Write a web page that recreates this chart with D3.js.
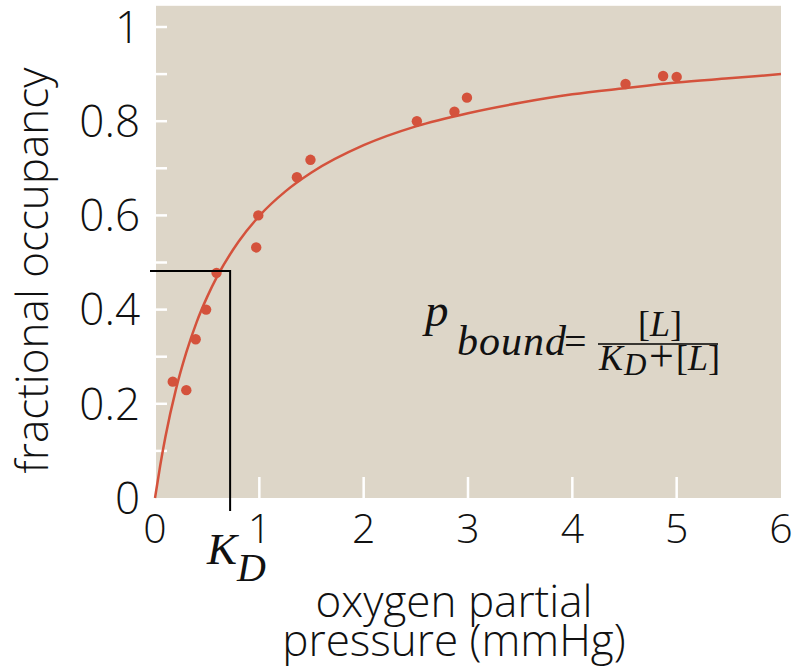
<!DOCTYPE html>
<style>
  body { margin: 0; background: #fff; }
  text { font-family: "Open Sans", sans-serif; font-weight: 350; fill: #111; }
  .math { font-family: "Liberation Serif", serif; font-style: italic; font-weight: 400; }
  .upright { font-family: "Liberation Serif", serif; font-style: normal; font-weight: 400; }
</style>
<body></body>
<script src="https://cdn.jsdelivr.net/npm/d3@7"></script>
<script>
  const width = 792
  const height = 671

  // measured points (oxygen partial pressure, fractional occupancy)
  const pressure = [0.17, 0.30, 0.39, 0.49, 0.59, 0.97, 0.99, 1.36, 1.49, 2.51, 2.87, 2.99, 4.51, 4.87, 5.0]
  const occupancy = [0.247, 0.229, 0.337, 0.40, 0.478, 0.532, 0.60, 0.681, 0.718, 0.80, 0.82, 0.85, 0.879, 0.896, 0.894]

  // binding curve
  const curveX = [0, 0.05, 0.1, 0.2, 0.3, 0.4, 0.5, 0.6, 0.8, 1, 1.25, 1.5, 2, 2.5, 3, 3.5, 4, 4.5, 5, 5.5, 6]
  const curveY = [0, 0.069, 0.13, 0.23, 0.309, 0.374, 0.427, 0.472, 0.544, 0.599, 0.651, 0.691, 0.749, 0.789, 0.817, 0.839, 0.857, 0.87, 0.882, 0.891, 0.90]

  const xTickLabels = ["0", "1", "2", "3", "4", "5", "6"]
  const yTickLabels = ["0", "0.2", "0.4", "0.6", "0.8", "1"]
  const yMinorTicks = [0.1, 0.2, 0.3, 0.4, 0.5, 0.6, 0.7, 0.8, 0.9, 1]
  const xMinorTicks = [1, 2, 3, 4, 5]

  // K_D guide lines
  const kdX = 0.72
  const kdY = 0.482

  const x = d3.scaleLinear().domain([0, 6]).range([155, 781])
  const y = d3.scaleLinear().domain([0, 1]).range([498, 27])

  const svg = d3.select("body")
    .append("svg")
    .attr("width", width)
    .attr("height", height)

  // plot background
  svg.append("rect")
    .attr("x", x(0) + 1)
    .attr("y", y(1.045))
    .attr("width", x(6) - x(0) - 1)
    .attr("height", y(0) - y(1.045))
    .attr("fill", "#ddd6c8")

  // white ticks inside the plot
  svg.append("g").selectAll("line")
    .data(yMinorTicks)
    .enter()
    .append("line")
    .attr("x1", x(0) + 1)
    .attr("x2", x(0) + 12)
    .attr("y1", d => y(d))
    .attr("y2", d => y(d))
    .attr("stroke", "#fff")
    .attr("stroke-width", 2.5)

  svg.append("g").selectAll("line")
    .data(xMinorTicks)
    .enter()
    .append("line")
    .attr("x1", d => x(d))
    .attr("x2", d => x(d))
    .attr("y1", y(0))
    .attr("y2", y(0) - 21)
    .attr("stroke", "#fff")
    .attr("stroke-width", 2.5)

  // tick labels
  svg.append("g").selectAll("text")
    .data(yTickLabels)
    .enter()
    .append("text")
    .attr("x", 140)
    .attr("y", d => y(+d))
    .attr("dy", "0.36em")
    .attr("text-anchor", "end")
    .attr("font-size", 44)
    .text(d => d)

  svg.append("g").selectAll("text")
    .data(xTickLabels)
    .enter()
    .append("text")
    .attr("x", d => x(+d))
    .attr("y", 543)
    .attr("text-anchor", "middle")
    .attr("font-size", 41)
    .text(d => d)

  // axis titles
  svg.append("text")
    .attr("transform", `translate(48, ${(y(0) + y(1)) / 2 + 8}) rotate(-90)`)
    .attr("text-anchor", "middle")
    .attr("font-size", 44)
    .text("fractional occupancy")

  const xTitle = svg.append("text")
    .attr("text-anchor", "middle")
    .attr("font-size", 44)
  xTitle.append("tspan").attr("x", 454).attr("y", 617).text("oxygen partial")
  xTitle.append("tspan").attr("x", 454).attr("y", 656).text("pressure (mmHg)")

  // fitted curve
  const line = d3.line()
    .x((d, i) => x(curveX[i]))
    .y(d => y(d))
    .curve(d3.curveMonotoneX)

  svg.append("path")
    .datum(curveY)
    .attr("d", line)
    .attr("fill", "none")
    .attr("stroke", "#d4523c")
    .attr("stroke-width", 2.5)

  svg.append("g").selectAll("circle")
    .data(pressure)
    .enter()
    .append("circle")
    .attr("cx", d => x(d))
    .attr("cy", (d, i) => y(occupancy[i]))
    .attr("r", 5.2)
    .attr("fill", "#d4523c")

  // K_D guide
  svg.append("path")
    .attr("d", `M150,${y(kdY)}H${x(kdX)}V511`)
    .attr("fill", "none")
    .attr("stroke", "#000")
    .attr("stroke-width", 2)

  const kd = svg.append("text")
    .attr("class", "math")
    .attr("x", 207)
    .attr("y", 564)
    .attr("font-size", 45)
  kd.append("tspan").text("K")
  kd.append("tspan").attr("dy", 17).attr("font-size", 40).text("D")

  // formula
  svg.append("text")
    .attr("class", "math")
    .attr("x", 425)
    .attr("y", 326)
    .attr("font-size", 47)
    .text("p")

  svg.append("text")
    .attr("class", "math")
    .attr("x", 457)
    .attr("y", 355)
    .attr("font-size", 42)
    .attr("letter-spacing", 1)
    .text("bound")

  svg.append("text")
    .attr("class", "upright")
    .attr("x", 564)
    .attr("y", 355)
    .attr("font-size", 40)
    .text("=")

  svg.append("line")
    .attr("x1", 598)
    .attr("x2", 718)
    .attr("y1", 344)
    .attr("y2", 344)
    .attr("stroke", "#000")
    .attr("stroke-width", 1.5)

  const num = svg.append("text")
    .attr("class", "upright")
    .attr("x", 660)
    .attr("y", 336)
    .attr("text-anchor", "middle")
    .attr("font-size", 36)
  num.append("tspan").text("[")
  num.append("tspan").attr("font-style", "italic").text("L")
  num.append("tspan").text("]")

  const den = svg.append("text")
    .attr("class", "upright")
    .attr("y", 370)
    .attr("font-size", 36)
  den.append("tspan").attr("x", 599).attr("font-style", "italic").text("K")
  den.append("tspan").attr("x", 624).attr("dy", 5).attr("font-style", "italic").attr("font-size", 31).text("D")
  den.append("tspan").attr("x", 649).attr("dy", -4).attr("font-size", 44).text("+")
  den.append("tspan").attr("x", 676).attr("dy", -1).text("[")
  den.append("tspan").attr("font-style", "italic").text("L")
  den.append("tspan").text("]")
</script>
